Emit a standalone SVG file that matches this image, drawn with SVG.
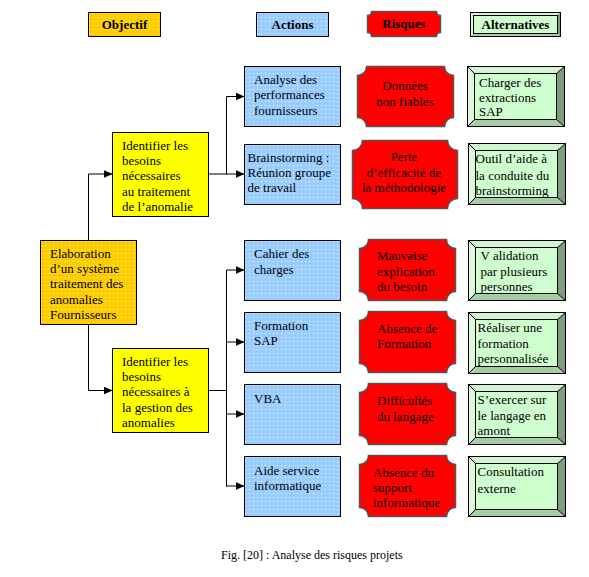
<svg xmlns="http://www.w3.org/2000/svg" width="589" height="577" viewBox="0 0 589 577">
<style>
text{font-family:"Liberation Serif","Times New Roman",serif;font-size:13px;fill:#000}
.h{font-weight:bold;text-anchor:middle}
.c{text-anchor:middle}
.box{stroke:#000;stroke-width:1}
.or{fill:url(#pOr)}
.bl{fill:url(#pBl)}
.ye{fill:#FFFF00}
.rd{fill:#FF0000;stroke:#555;stroke-width:1.5}
.gf{fill:url(#pGr);stroke:#000;stroke-width:1}
.gt{fill:#D2F4D2}
.gl{fill:#DDF8DD}
.gr{fill:#7F9C7F}
.gb{fill:#A6CCA6}
.go{fill:none;stroke:#000;stroke-width:1}
.cn{fill:none;stroke:#000;stroke-width:1}
</style>
<defs>
<pattern id="pOr" width="4" height="4" patternUnits="userSpaceOnUse"><rect width="4" height="4" fill="#FFCC00"/><rect x="1" y="1" width="1" height="1" fill="#FFF2A0"/></pattern>
<pattern id="pBl" width="4" height="4" patternUnits="userSpaceOnUse"><rect width="4" height="4" fill="#99CCFF"/><rect x="1" y="1" width="1" height="1" fill="#E8F4FF"/></pattern>
<pattern id="pGr" width="4" height="4" patternUnits="userSpaceOnUse"><rect width="4" height="4" fill="#CCFFCC"/><rect x="1" y="1" width="1" height="1" fill="#F2FFF2"/></pattern>
<marker id="ar" markerWidth="9" markerHeight="8" refX="8.5" refY="4" orient="auto" markerUnits="userSpaceOnUse"><path d="M0,0 L9,4 L0,8 Z" fill="#000"/></marker>
</defs>

<g id="headers">
<g id="h-objectif"><rect class="box or" x="88.5" y="12.5" width="72" height="24"/><text class="h" x="124.5" y="29">Objectif</text></g>
<g id="h-actions"><rect class="box bl" x="256.5" y="12.5" width="72" height="24"/><text class="h" x="292.5" y="29">Actions</text></g>
<g id="h-risques"><path class="rd" d="M371.5,11.5 H436.5 A4,4 0 0 0 440.5,15.5 V32.5 A4,4 0 0 0 436.5,36.5 H371.5 A4,4 0 0 0 367.5,32.5 V15.5 A4,4 0 0 0 371.5,11.5 Z"/><text class="h" x="404" y="28">Risques</text></g>
<g id="h-alternatives">
<path class="gt" d="M470.5,12.5 H560.5 L557.5,15.5 H473.5 Z"/><path class="gl" d="M470.5,12.5 L473.5,15.5 V33.5 L470.5,36.5 Z"/><path class="gr" d="M560.5,12.5 V36.5 L557.5,33.5 V15.5 Z"/><path class="gb" d="M470.5,36.5 L473.5,33.5 H557.5 L560.5,36.5 Z"/>
<rect class="gf" x="473.5" y="15.5" width="84" height="18"/><rect class="go" x="470.5" y="12.5" width="90" height="24"/>
<text class="h" x="515.5" y="29">Alternatives</text></g>
</g>

<g id="connectors">
<path class="cn" d="M88.5,240 V174 H112" marker-end="url(#ar)"/>
<path class="cn" d="M88.5,324 V390.5 H112" marker-end="url(#ar)"/>
<path class="cn" d="M209,174 H226.5"/>
<path class="cn" d="M226.5,96.5 V174.5"/>
<path class="cn" d="M226.5,96.5 H244" marker-end="url(#ar)"/>
<path class="cn" d="M226.5,174 H244" marker-end="url(#ar)"/>
<path class="cn" d="M208.5,390.5 H226.5"/>
<path class="cn" d="M226.5,270 V486.5"/>
<path class="cn" d="M226.5,270 H244" marker-end="url(#ar)"/>
<path class="cn" d="M226.5,342 H244" marker-end="url(#ar)"/>
<path class="cn" d="M226.5,414 H244" marker-end="url(#ar)"/>
<path class="cn" d="M226.5,486 H244" marker-end="url(#ar)"/>
</g>

<g id="n-elaboration"><rect class="box or" x="40.5" y="240.5" width="96" height="84"/>
<text x="50" y="258">Elaboration</text><text x="50" y="273">d’un système</text><text x="50" y="288">traitement des</text><text x="50" y="304">anomalies</text><text x="50" y="319">Fournisseurs</text></g>

<g id="n-identifier1"><rect class="box ye" x="112.5" y="132.5" width="96" height="84"/>
<text x="122" y="150">Identifier les</text><text x="122" y="165">besoins</text><text x="122" y="180">nécessaires</text><text x="122" y="196">au traitement</text><text x="122" y="211">de l’anomalie</text></g>

<g id="n-identifier2"><rect class="box ye" x="112.5" y="348.5" width="96" height="84"/>
<text x="122" y="366">Identifier les</text><text x="122" y="381">besoins</text><text x="122" y="396">nécessaires à</text><text x="122" y="412">la gestion des</text><text x="122" y="427">anomalies</text></g>

<g id="n-a1"><rect class="box bl" x="244.5" y="66.5" width="96" height="60"/>
<text x="254" y="84">Analyse des</text><text x="254" y="99">performances</text><text x="254" y="115">fournisseurs</text></g>
<g id="n-a2"><rect class="box bl" x="244.5" y="144.5" width="96" height="60"/>
<text x="247.5" y="162">Brainstorming :</text><text x="247.5" y="177">Réunion groupe</text><text x="247.5" y="192">de travail</text></g>
<g id="n-a3"><rect class="box bl" x="244.5" y="240.5" width="96" height="60"/>
<text x="254" y="258">Cahier des</text><text x="254" y="274">charges</text></g>
<g id="n-a4"><rect class="box bl" x="244.5" y="312.5" width="96" height="60"/>
<text x="254" y="330">Formation</text><text x="254" y="345">SAP</text></g>
<g id="n-a5"><rect class="box bl" x="244.5" y="384.5" width="96" height="60"/>
<text x="254" y="403">VBA</text></g>
<g id="n-a6"><rect class="box bl" x="244.5" y="456.5" width="96" height="60"/>
<text x="254" y="475">Aide service</text><text x="254" y="490">informatique</text></g>

<g id="n-r1"><path class="rd" d="M366.5,66.5 H444.5 A9,9 0 0 0 453.5,75.5 V117.5 A9,9 0 0 0 444.5,126.5 H366.5 A9,9 0 0 0 357.5,117.5 V75.5 A9,9 0 0 0 366.5,66.5 Z"/>
<text class="c" x="405" y="90">Données</text><text class="c" x="405" y="106">non fiables</text></g>
<g id="n-r2"><path class="rd" d="M362.5,140.5 H447.5 A10,10 0 0 0 457.5,150.5 V198.5 A10,10 0 0 0 447.5,208.5 H362.5 A10,10 0 0 0 352.5,198.5 V150.5 A10,10 0 0 0 362.5,140.5 Z"/>
<text class="c" x="404" y="161">Perte</text><text class="c" x="404" y="177">d’efficacité de</text><text class="c" x="404" y="192">la méthodologie</text></g>
<g id="n-r3"><path class="rd" d="M368.5,239.5 H446.5 A9,9 0 0 0 455.5,248.5 V291.5 A9,9 0 0 0 446.5,300.5 H368.5 A9,9 0 0 0 359.5,291.5 V248.5 A9,9 0 0 0 368.5,239.5 Z"/>
<text x="377" y="260">Mauvaise</text><text x="377" y="276">explication</text><text x="377" y="291">du besoin</text></g>
<g id="n-r4"><path class="rd" d="M368.5,311.5 H446.5 A9,9 0 0 0 455.5,320.5 V363.5 A9,9 0 0 0 446.5,372.5 H368.5 A9,9 0 0 0 359.5,363.5 V320.5 A9,9 0 0 0 368.5,311.5 Z"/>
<text x="377" y="333">Absence de</text><text x="377" y="348">Formation</text></g>
<g id="n-r5"><path class="rd" d="M368.5,383.5 H446.5 A9,9 0 0 0 455.5,392.5 V435.5 A9,9 0 0 0 446.5,444.5 H368.5 A9,9 0 0 0 359.5,435.5 V392.5 A9,9 0 0 0 368.5,383.5 Z"/>
<text x="377" y="405">Difficultés</text><text x="377" y="421">du langage</text></g>
<g id="n-r6"><path class="rd" d="M368.5,455.5 H446.5 A9,9 0 0 0 455.5,464.5 V507.5 A9,9 0 0 0 446.5,516.5 H368.5 A9,9 0 0 0 359.5,507.5 V464.5 A9,9 0 0 0 368.5,455.5 Z"/>
<text x="373" y="477">Absence du</text><text x="373" y="492">support</text><text x="373" y="507">informatique</text></g>

<g id="n-g1">
<path class="gt" d="M467.5,66.5 H564.5 L556.5,73.5 H474.5 Z"/><path class="gl" d="M467.5,66.5 L474.5,73.5 V119.5 L467.5,126.5 Z"/><path class="gr" d="M564.5,66.5 V126.5 L556.5,119.5 V73.5 Z"/><path class="gb" d="M467.5,126.5 L474.5,119.5 H556.5 L564.5,126.5 Z"/>
<path class="go" d="M467.5,66.5 L474.5,73.5 M564.5,66.5 L556.5,73.5 M467.5,126.5 L474.5,119.5 M564.5,126.5 L556.5,119.5"/>
<rect class="gf" x="474.5" y="73.5" width="82" height="46"/><rect class="go" x="467.5" y="66.5" width="97" height="60"/>
<text x="479" y="87">Charger des</text><text x="479" y="102">extractions</text><text x="479" y="116">SAP</text></g>
<g id="n-g2">
<path class="gt" d="M468.5,143.5 H565.5 L557.5,150.5 H475.5 Z"/><path class="gl" d="M468.5,143.5 L475.5,150.5 V197.5 L468.5,204.5 Z"/><path class="gr" d="M565.5,143.5 V204.5 L557.5,197.5 V150.5 Z"/><path class="gb" d="M468.5,204.5 L475.5,197.5 H557.5 L565.5,204.5 Z"/>
<path class="go" d="M468.5,143.5 L475.5,150.5 M565.5,143.5 L557.5,150.5 M468.5,204.5 L475.5,197.5 M565.5,204.5 L557.5,197.5"/>
<rect class="gf" x="475.5" y="150.5" width="82" height="47"/><rect class="go" x="468.5" y="143.5" width="97" height="61"/>
<text x="475.5" y="163">Outil d’aide à</text><text x="475.5" y="180">la conduite du</text><text x="475.5" y="195">brainstorming</text></g>
<g id="n-g3">
<path class="gt" d="M468.5,240.5 H565.5 L557.5,247.5 H475.5 Z"/><path class="gl" d="M468.5,240.5 L475.5,247.5 V293.5 L468.5,300.5 Z"/><path class="gr" d="M565.5,240.5 V300.5 L557.5,293.5 V247.5 Z"/><path class="gb" d="M468.5,300.5 L475.5,293.5 H557.5 L565.5,300.5 Z"/>
<path class="go" d="M468.5,240.5 L475.5,247.5 M565.5,240.5 L557.5,247.5 M468.5,300.5 L475.5,293.5 M565.5,300.5 L557.5,293.5"/>
<rect class="gf" x="475.5" y="247.5" width="82" height="46"/><rect class="go" x="468.5" y="240.5" width="97" height="60"/>
<text x="480.5" y="260">V alidation</text><text x="480.5" y="276">par plusieurs</text><text x="480.5" y="291">personnes</text></g>
<g id="n-g4">
<path class="gt" d="M468.5,312.5 H565.5 L557.5,319.5 H475.5 Z"/><path class="gl" d="M468.5,312.5 L475.5,319.5 V366.5 L468.5,373.5 Z"/><path class="gr" d="M565.5,312.5 V373.5 L557.5,366.5 V319.5 Z"/><path class="gb" d="M468.5,373.5 L475.5,366.5 H557.5 L565.5,373.5 Z"/>
<path class="go" d="M468.5,312.5 L475.5,319.5 M565.5,312.5 L557.5,319.5 M468.5,373.5 L475.5,366.5 M565.5,373.5 L557.5,366.5"/>
<rect class="gf" x="475.5" y="319.5" width="82" height="47"/><rect class="go" x="468.5" y="312.5" width="97" height="61"/>
<text x="477.5" y="332">Réaliser une</text><text x="477.5" y="348">formation</text><text x="477.5" y="363">personnalisée</text></g>
<g id="n-g5">
<path class="gt" d="M468.5,384.5 H565.5 L557.5,391.5 H475.5 Z"/><path class="gl" d="M468.5,384.5 L475.5,391.5 V437.5 L468.5,444.5 Z"/><path class="gr" d="M565.5,384.5 V444.5 L557.5,437.5 V391.5 Z"/><path class="gb" d="M468.5,444.5 L475.5,437.5 H557.5 L565.5,444.5 Z"/>
<path class="go" d="M468.5,384.5 L475.5,391.5 M565.5,384.5 L557.5,391.5 M468.5,444.5 L475.5,437.5 M565.5,444.5 L557.5,437.5"/>
<rect class="gf" x="475.5" y="391.5" width="82" height="46"/><rect class="go" x="468.5" y="384.5" width="97" height="60"/>
<text x="477.5" y="404">S’exercer sur</text><text x="477.5" y="420">le langage en</text><text x="477.5" y="435">amont</text></g>
<g id="n-g6">
<path class="gt" d="M468.5,456.5 H565.5 L557.5,463.5 H475.5 Z"/><path class="gl" d="M468.5,456.5 L475.5,463.5 V509.5 L468.5,516.5 Z"/><path class="gr" d="M565.5,456.5 V516.5 L557.5,509.5 V463.5 Z"/><path class="gb" d="M468.5,516.5 L475.5,509.5 H557.5 L565.5,516.5 Z"/>
<path class="go" d="M468.5,456.5 L475.5,463.5 M565.5,456.5 L557.5,463.5 M468.5,516.5 L475.5,509.5 M565.5,516.5 L557.5,509.5"/>
<rect class="gf" x="475.5" y="463.5" width="82" height="46"/><rect class="go" x="468.5" y="456.5" width="97" height="60"/>
<text x="477.5" y="476">Consultation</text><text x="477.5" y="493">externe</text></g>

<text id="caption" x="221" y="559" style="font-size:12px">Fig. [20] : Analyse des risques projets</text>
</svg>
